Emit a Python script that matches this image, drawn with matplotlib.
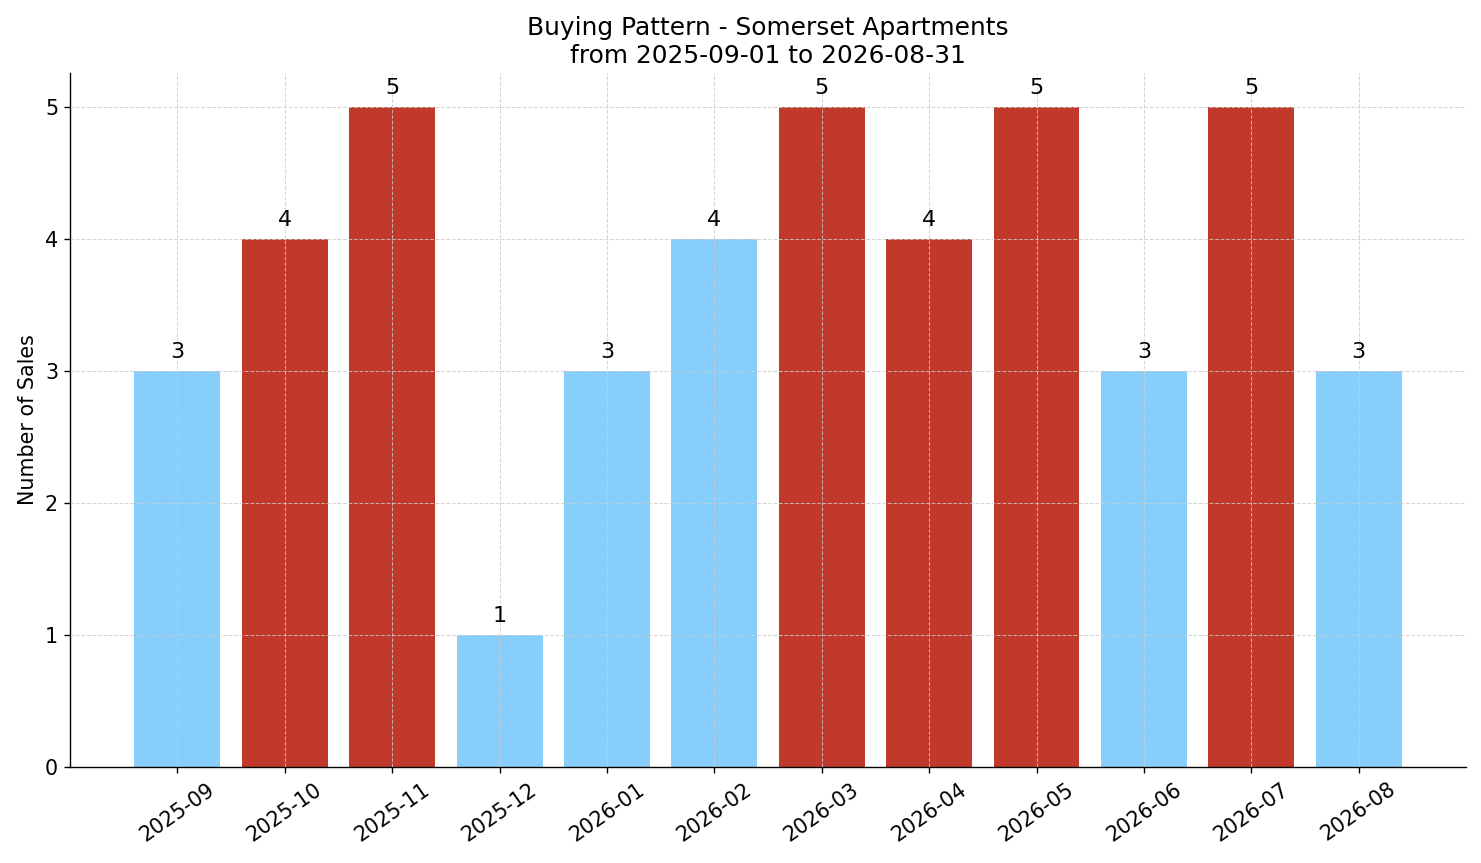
import numpy as np
import matplotlib
matplotlib.use("Agg")
import matplotlib.pyplot as plt

# Datos
meses = ["2025-09", "2025-10", "2025-11", "2025-12", "2026-01", "2026-02",
         "2026-03", "2026-04", "2026-05", "2026-06", "2026-07", "2026-08"]
ventas = [3, 4, 5, 1, 3, 4, 5, 4, 5, 3, 5, 3]
destacado = [False, True, True, False, False, False, True, True, True, False, True, False]

azul = "#87CEFA"
rojo = "#C0392B"
colores = [rojo if d else azul for d in destacado]

dpi = 123.4
fig = plt.figure(figsize=(1481 / dpi, 863 / dpi), dpi=dpi)
ax = fig.add_axes([0.0473, 0.1112, 0.9426, 0.8042])

x = np.arange(len(meses))
barras = ax.bar(x, ventas, width=0.8, color=colores, zorder=1)
for b, v in zip(barras, ventas):
    ax.text(b.get_x() + b.get_width() / 2, v + 0.07, str(v),
            ha="center", va="bottom", fontsize=13)

ax.grid(True, linestyle="--", linewidth=0.6, color="#cccccc", alpha=0.8, zorder=2)
ax.set_axisbelow(False)
ax.set_xticks(x)
ax.set_xticklabels(meses, rotation=35, ha="center", fontsize=12)
ax.tick_params(axis="y", labelsize=12)
ax.set_xlim(-1, len(meses))
ax.set_ylim(0, max(ventas) * 1.052)
ax.set_ylabel("Number of Sales", fontsize=12)
ax.set_title("Buying Pattern - Somerset Apartments\nfrom 2025-09-01 to 2026-08-31", fontsize=14.5)
ax.spines["top"].set_visible(False)
ax.spines["right"].set_visible(False)

fig.savefig("out.png", dpi=dpi)
